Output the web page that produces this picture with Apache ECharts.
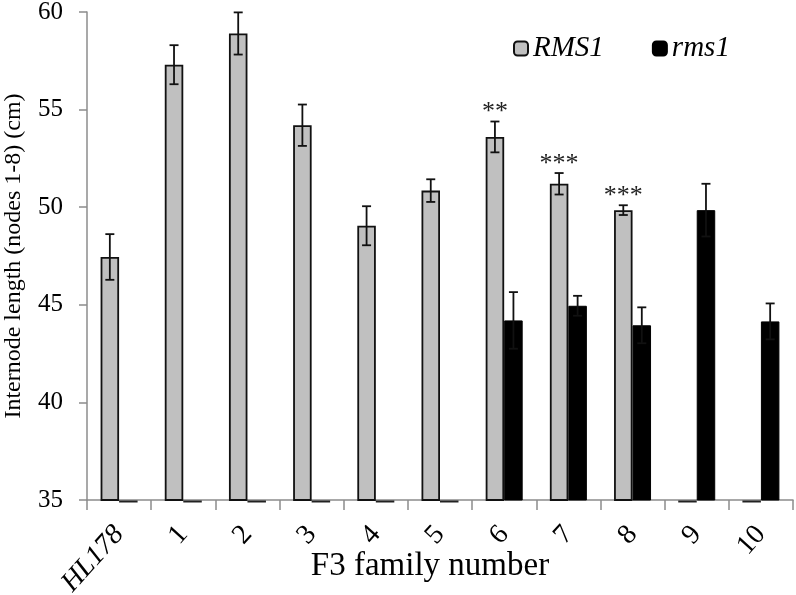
<!DOCTYPE html>
<html>
<head>
<meta charset="utf-8">
<script src="https://cdn.jsdelivr.net/npm/echarts@6/dist/echarts.min.js"></script>
<style>html,body{margin:0;padding:0;background:#fff;}#c{width:796px;height:595px;}</style>
</head>
<body>
<div id="c"></div>
<script>
const categories = ['HL178','1','2','3','4','5','6','7','8','9','10'];
const rmsUpper = [47.45, 57.3, 58.9, 54.2, 49.05, 50.85, 53.6, 51.2, 49.85, 35, 35];
const rmsUpperErr = [1.17, 1.0, 1.08, 1.06, 1.0, 0.58, 0.79, 0.55, 0.25, null, null];
const rmsLower = [35, 35, 35, 35, 35, 35, 44.2, 44.95, 43.95, 49.85, 44.15];
const rmsLowerErr = [null, null, null, null, null, null, 1.45, 0.51, 0.92, 1.35, 0.92];
const stars = ['', '', '', '', '', '', '**', '***', '***', '', ''];

const BW = 18.5;
const YMIN = 35;
const serif = 'Liberation Serif';

function errData(vals, errs) {
  return vals.map((v, i) => [i, v, errs[i] == null ? 0 : errs[i], errs[i] == null ? 0 : 1]);
}
function errRender(side) {
  return function (params, api) {
    const i = api.value(0), v = api.value(1), e = api.value(2);
    if (v <= YMIN) {
      const b = api.coord([i, YMIN]);
      const cx = b[0] + side * BW / 2;
      return { type: 'line', shape: { x1: cx - BW / 2, y1: b[1] + 1.5, x2: cx + BW / 2, y2: b[1] + 1.5 },
               style: { stroke: '#222', lineWidth: 2 } };
    }
    if (!api.value(3)) return;
    const top = api.coord([i, v + e]);
    const bot = api.coord([i, v - e]);
    const x = top[0] + side * BW / 2;
    const cap = 4.5;
    const st = { stroke: '#111', lineWidth: 1.8 };
    return {
      type: 'group',
      children: [
        { type: 'line', shape: { x1: x, y1: top[1], x2: x, y2: bot[1] }, style: st },
        { type: 'line', shape: { x1: x - cap, y1: top[1], x2: x + cap, y2: top[1] }, style: st },
        { type: 'line', shape: { x1: x - cap, y1: bot[1], x2: x + cap, y2: bot[1] }, style: st }
      ]
    };
  };
}

const chart = echarts.init(document.getElementById('c'), null, { renderer: 'canvas' });
chart.setOption({
  animation: false,
  backgroundColor: '#fff',
  grid: { left: 87, right: 3, top: 12, bottom: 95, containLabel: false, outerBoundsMode: 'none' },
  legend: {
    data: ['RMS1', 'rms1'],
    left: 508, top: 29,
    itemWidth: 14, itemHeight: 14, itemGap: 48,
    textStyle: { fontFamily: serif, fontStyle: 'italic', fontSize: 29, color: '#000' }
  },
  xAxis: {
    type: 'category',
    data: categories,
    axisLine: { lineStyle: { color: '#8c8c8c', width: 1.5 } },
    axisTick: { show: true, length: 10, lineStyle: { color: '#8c8c8c', width: 1.5 } },
    axisLabel: {
      rotate: 48, fontFamily: serif, fontSize: 28, color: '#000', margin: 30,
      formatter: function (v) { return v === 'HL178' ? '{i|' + v + '}' : v; },
      rich: { i: { fontFamily: serif, fontSize: 28, fontStyle: 'italic', color: '#000' } }
    },
    name: 'F3 family number',
    nameLocation: 'middle',
    nameGap: 50,
    nameMoveOverlap: false,
    nameTextStyle: { fontFamily: serif, fontSize: 33, color: '#000', padding: [0, 20, 0, 0] }
  },
  yAxis: {
    type: 'value',
    min: YMIN, max: 60, interval: 5,
    splitLine: { show: false },
    axisLine: { show: true, lineStyle: { color: '#8c8c8c', width: 1.5 } },
    axisTick: { show: true, length: 8, lineStyle: { color: '#8c8c8c', width: 1.5 } },
    axisLabel: { fontFamily: serif, fontSize: 25, color: '#000', margin: 24 },
    name: 'Internode length (nodes 1-8) (cm)',
    nameLocation: 'middle',
    nameGap: 61,
    nameMoveOverlap: false,
    nameTextStyle: { fontFamily: serif, fontSize: 24, color: '#000' }
  },
  series: [
    {
      name: 'RMS1', type: 'bar', data: rmsUpper, barWidth: BW, barGap: '0%',
      itemStyle: { color: '#c0c0c0', borderColor: '#111', borderWidth: 1.8 }
    },
    {
      name: 'rms1', type: 'bar', data: rmsLower, barWidth: BW, barGap: '0%',
      itemStyle: { color: '#000', borderColor: '#000', borderWidth: 1 }
    },
    {
      type: 'custom', renderItem: errRender(-1), data: errData(rmsUpper, rmsUpperErr), z: 5,
      encode: { x: 0, y: 1 }, silent: true, clip: false
    },
    {
      type: 'custom', renderItem: errRender(1), data: errData(rmsLower, rmsLowerErr), z: 5,
      encode: { x: 0, y: 1 }, silent: true, clip: false
    },
    {
      type: 'custom', z: 6, silent: true,
      data: stars.map((s, i) => [i, rmsUpper[i] + (rmsUpperErr[i] || 0), s]),
      encode: { x: 0, y: 1 },
      renderItem: function (params, api) {
        const s = stars[api.value(0)];
        if (!s) return;
        const p = api.coord([api.value(0), api.value(1)]);
        return {
          type: 'text',
          style: { x: p[0] - BW / 2, y: p[1] - 9, text: s, align: 'center', verticalAlign: 'middle',
                   font: '26px "Liberation Serif"', fill: '#222' }
        };
      }
    }
  ]
});
</script>
</body>
</html>
